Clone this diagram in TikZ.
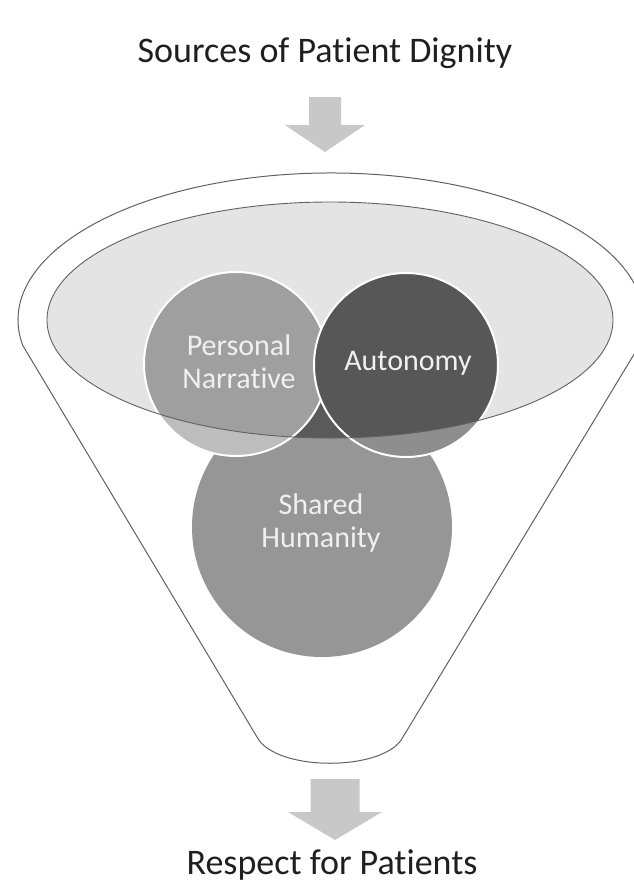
\documentclass[tikz,border=0pt]{standalone}
\usepackage{fontspec}
\setmainfont[Ligatures=NoCommon]{Carlito}
\definecolor{ringgray}{HTML}{E4E4E4}
\definecolor{arrowgray}{HTML}{C8C8C8}
\definecolor{sharedgray}{HTML}{969696}
\definecolor{shareddark}{HTML}{5A5A5A}
\definecolor{pnlight}{HTML}{BDBDBD}
\definecolor{pndark}{HTML}{9F9F9F}
\definecolor{aulight}{HTML}{8E8E8E}
\definecolor{audark}{HTML}{575757}
\begin{document}
\begin{tikzpicture}[x=1pt,y=-1pt,
  lbl/.style={text=white!94!black, align=center, font=\fontsize{30}{33}\selectfont},
  caption/.style={text=black!88, anchor=base, font=\fontsize{36}{43}\selectfont},
  rim/.style={draw=white, line width=2pt},
  outline/.style={draw=black!62, line width=1pt},
  blockarrow/.style={fill=arrowgray}]
\useasboundingbox (0,0) rectangle (634,884);
\coordinate (fc) at (330,320);
\coordinate (shc) at (322,527);
\coordinate (pnc) at (236,364);
\coordinate (auc) at (406,365);
% funnel body
\draw[outline, fill=white] (22.8,345.5) arc[start angle=170, end angle=370, x radius=313, y radius=147]
  -- (403,737) .. controls (385,772) and (275,772) .. (257,737) -- cycle;
\fill[ringgray] (fc) ellipse [x radius=283, y radius=118];
% circles
\fill[sharedgray] (shc) circle [radius=130];
\begin{scope}
  \clip (fc) ellipse [x radius=283, y radius=118];
  \fill[shareddark] (shc) circle [radius=130];
\end{scope}
\fill[pnlight] (pnc) circle [radius=92];
\begin{scope}
  \clip (fc) ellipse [x radius=283, y radius=118];
  \fill[pndark] (pnc) circle [radius=92];
\end{scope}
\draw[rim] (pnc) circle [radius=92];
\fill[aulight] (auc) circle [radius=92];
\begin{scope}
  \clip (fc) ellipse [x radius=283, y radius=118];
  \fill[audark] (auc) circle [radius=92];
\end{scope}
\draw[rim] (auc) circle [radius=92];
\draw[outline, line width=0.9pt] (fc) ellipse [x radius=283, y radius=118];
% labels
\node[lbl] (pn) at (239,362) {Personal\\Narrative};
\node[lbl] (au) at (408,363) {Autonomy};
\node[lbl] (sh) at (321,523) {Shared\\Humanity};
% arrows in and out
\fill[blockarrow] (309,97) -- (341,97) -- (341,125) -- (365,125) -- (325,152) -- (285,125) -- (309,125) -- cycle;
\fill[blockarrow] (310.5,779) -- (359.5,779) -- (359.5,812) -- (382,812) -- (335,840) -- (288,812) -- (310.5,812) -- cycle;
\node[caption] (src) at (325,62) {Sources of Patient Dignity};
\node[caption] (dst) at (332,874) {Respect for Patients};
\end{tikzpicture}
\end{document}
